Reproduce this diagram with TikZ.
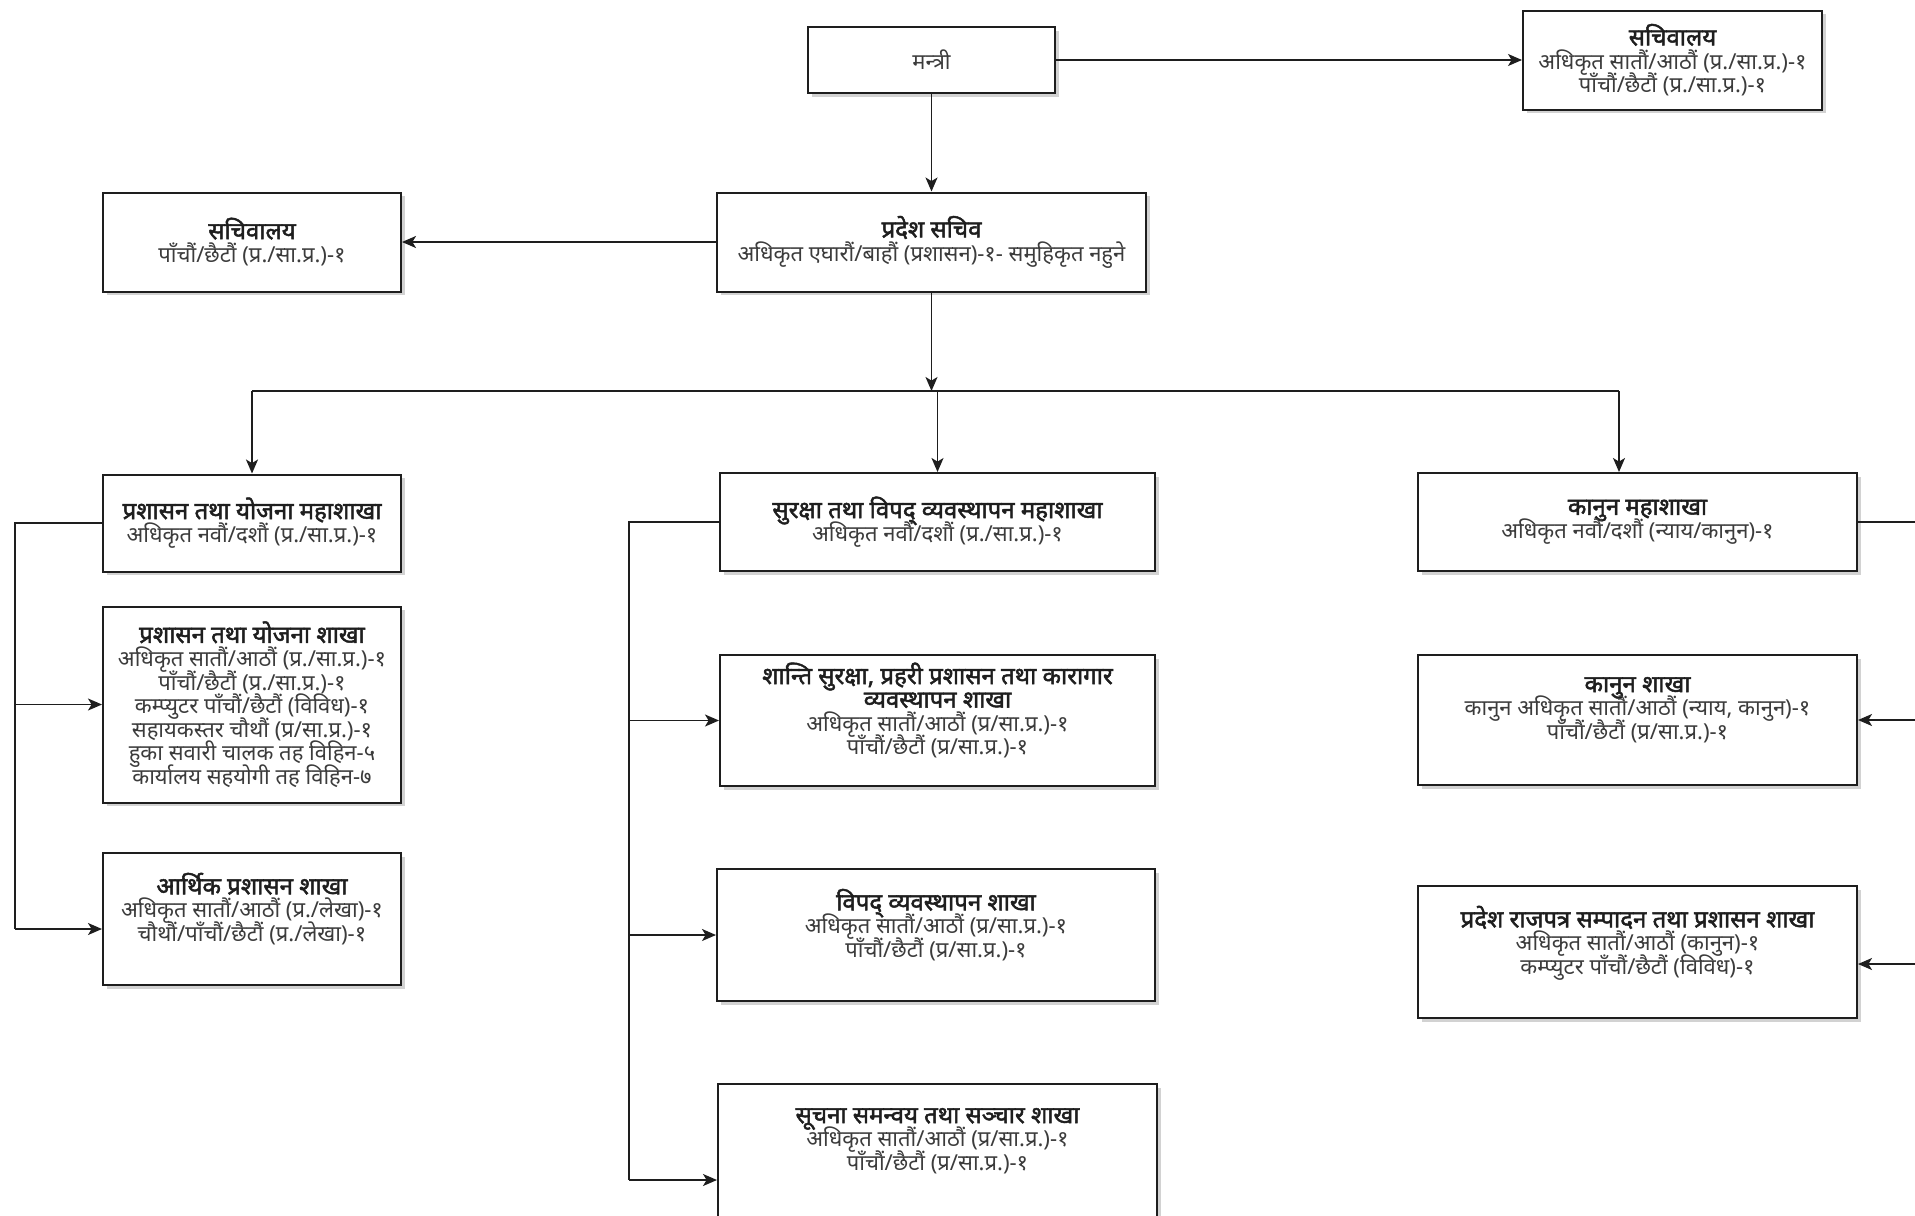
\documentclass[tikz,border=0pt]{standalone}
\usepackage{fontspec}
\setmainfont{Noto Sans}[Script=Devanagari]
\newfontfamily\ttlfont{Noto Sans}[Script=Devanagari, FakeBold=2]
\usetikzlibrary{arrows.meta,shadows}
\definecolor{edgec}{HTML}{1E1E1E}
\definecolor{bodytxt}{HTML}{3C3C3C}
\definecolor{titletxt}{HTML}{1E1E1E}
\newcommand{\ttl}[1]{{\ttlfont\fontsize{12}{12}\selectfont\color{titletxt}#1}}
\newcommand{\tightlines}{\lineskiplimit=-20pt\relax\lineskip=0pt\relax}
\tikzset{
  orgbox/.style={draw=edgec, line width=1pt, fill=white, rectangle, inner sep=0pt,
    align=center, text=bodytxt,
    font=\fontsize{11}{11.8}\selectfont\tightlines,
    drop shadow={opacity=0.35, shadow xshift=1.8pt, shadow yshift=-1.8pt}},
  conn/.style={draw=edgec, line width=0.8pt},
  arr/.style={conn, -{Stealth[length=7pt, width=6pt, inset=1.8pt]}},
}
\begin{document}
\begin{tikzpicture}[x=0.5pt, y=-0.5pt]
\useasboundingbox (0,0) rectangle (1915,1215);
\clip (0,0) rectangle (1915,1215);
\fill[white] (0,0) rectangle (1915,1215);

% top
\node[orgbox, minimum width=123.5pt, minimum height=33pt] (mantri) at (931.5,60) {मन्त्री};
\node[orgbox, minimum width=149.5pt, minimum height=49.5pt] (sachivR) at (1672.5,60)
  {\ttl{सचिवालय}\\अधिकृत सातौं/आठौं (प्र./सा.प्र.)-१\\पाँचौं/छैटौं (प्र./सा.प्र.)-१};
\node[orgbox, minimum width=214.5pt, minimum height=49.5pt] (pradesh) at (931.5,242)
  {\ttl{प्रदेश सचिव}\\अधिकृत एघारौं/बाहौं (प्रशासन)-१- समुहिकृत नहुने};
\node[orgbox, minimum width=149pt, minimum height=49.5pt] (sachivL) at (252,242)
  {\ttl{सचिवालय}\\पाँचौं/छैटौं (प्र./सा.प्र.)-१};

% left column
\node[orgbox, minimum width=149pt, minimum height=48.5pt] (adminMaha) at (252,523)
  {\ttl{प्रशासन तथा योजना महाशाखा}\\अधिकृत नवौं/दशौं (प्र./सा.प्र.)-१};
\node[orgbox, minimum width=149pt, minimum height=98pt] (adminSakha) at (252,704.5)
  {\ttl{प्रशासन तथा योजना शाखा}\\अधिकृत सातौं/आठौं (प्र./सा.प्र.)-१\\पाँचौं/छैटौं (प्र./सा.प्र.)-१\\कम्प्युटर पाँचौं/छैटौं (विविध)-१\\सहायकस्तर चौथौं (प्र/सा.प्र.)-१\\हुका सवारी चालक तह विहिन-५\\कार्यालय सहयोगी तह विहिन-७};
\node[orgbox, minimum width=149pt, minimum height=66pt] (arthik) at (252,919)
  {\ttl{आर्थिक प्रशासन शाखा}\\अधिकृत सातौं/आठौं (प्र./लेखा)-१\\चौथौं/पाँचौं/छैटौं (प्र./लेखा)-१\\~};

% middle column
\node[orgbox, minimum width=217.5pt, minimum height=49pt] (surakshaMaha) at (937.5,522)
  {\ttl{सुरक्षा तथा विपद् व्यवस्थापन महाशाखा}\\अधिकृत नवौं/दशौं (प्र./सा.प्र.)-१};
\node[orgbox, minimum width=217.5pt, minimum height=65.5pt] (shanti) at (937.5,720.5)
  {\ttl{शान्ति सुरक्षा, प्रहरी प्रशासन तथा कारागार}\\\ttl{व्यवस्थापन शाखा}\\अधिकृत सातौं/आठौं (प्र/सा.प्र.)-१\\पाँचौं/छैटौं (प्र/सा.प्र.)-१\\~};
\node[orgbox, minimum width=219pt, minimum height=66pt] (vipad) at (936,935)
  {\ttl{विपद् व्यवस्थापन शाखा}\\अधिकृत सातौं/आठौं (प्र/सा.प्र.)-१\\पाँचौं/छैटौं (प्र/सा.प्र.)-१\\~};
\node[orgbox, minimum width=219.5pt, minimum height=67pt] (suchana) at (937.5,1151)
  {\ttl{सूचना समन्वय तथा सञ्चार शाखा}\\अधिकृत सातौं/आठौं (प्र/सा.प्र.)-१\\पाँचौं/छैटौं (प्र/सा.प्र.)-१\\~};

% right column
\node[orgbox, minimum width=219.5pt, minimum height=49pt] (kanunMaha) at (1637.5,522)
  {\ttl{कानुन महाशाखा}\\अधिकृत नवौं/दशौं (न्याय/कानुन)-१};
\node[orgbox, minimum width=219.5pt, minimum height=65pt] (kanunSakha) at (1637.5,720)
  {\ttl{कानुन शाखा}\\कानुन अधिकृत सातौं/आठौं (न्याय, कानुन)-१\\पाँचौं/छैटौं (प्र/सा.प्र.)-१\\~};
\node[orgbox, minimum width=219.5pt, minimum height=66pt] (rajpatra) at (1637.5,952)
  {\ttl{प्रदेश राजपत्र सम्पादन तथा प्रशासन शाखा}\\अधिकृत सातौं/आठौं (कानुन)-१\\कम्प्युटर पाँचौं/छैटौं (विविध)-१\\~};

% helper coordinates
\coordinate (busM) at (931.5,391);
\coordinate (busL) at (252,391);
\coordinate (busR) at (1619,391);
\coordinate (LX) at (15,0);
\coordinate (MX) at (629,0);
\coordinate (RX) at (1932,0);
\coordinate (arthikIn) at ([yshift=-5pt]arthik.west);
\coordinate (suchanaIn) at ([yshift=-14.5pt]suchana.west);
\coordinate (rajIn) at ([yshift=-6pt]rajpatra.east);

% top connectors
\draw[arr] (mantri.east) -- (sachivR.west);
\draw[arr] (mantri.south) -- (pradesh.north);
\draw[arr] (pradesh.west) -- (sachivL.east);
\draw[arr] (pradesh.south) -- (busM);
\draw[conn] (busL) -- (busR);
\draw[arr] (busL) -- (adminMaha.north);
\draw[arr] (surakshaMaha.north |- busM) -- (surakshaMaha.north);
\draw[arr] (busR) -- (busR |- kanunMaha.north);

% left column connectors
\draw[conn] (adminMaha.west) -- (adminMaha.west -| LX) -- (LX |- arthikIn);
\draw[arr] (LX |- adminSakha.west) -- (adminSakha.west);
\draw[arr] (LX |- arthikIn) -- (arthikIn);

% middle column connectors
\draw[conn] (surakshaMaha.west) -- (surakshaMaha.west -| MX) -- (MX |- suchanaIn);
\draw[arr] (MX |- shanti.west) -- (shanti.west);
\draw[arr] (MX |- vipad.west) -- (vipad.west);
\draw[arr] (MX |- suchanaIn) -- (suchanaIn);

% right column connectors
\draw[conn] (kanunMaha.east) -- (kanunMaha.east -| RX) -- (RX |- rajIn);
\draw[arr] (RX |- kanunSakha.east) -- (kanunSakha.east);
\draw[arr] (RX |- rajIn) -- (rajIn);
\end{tikzpicture}
\end{document}
